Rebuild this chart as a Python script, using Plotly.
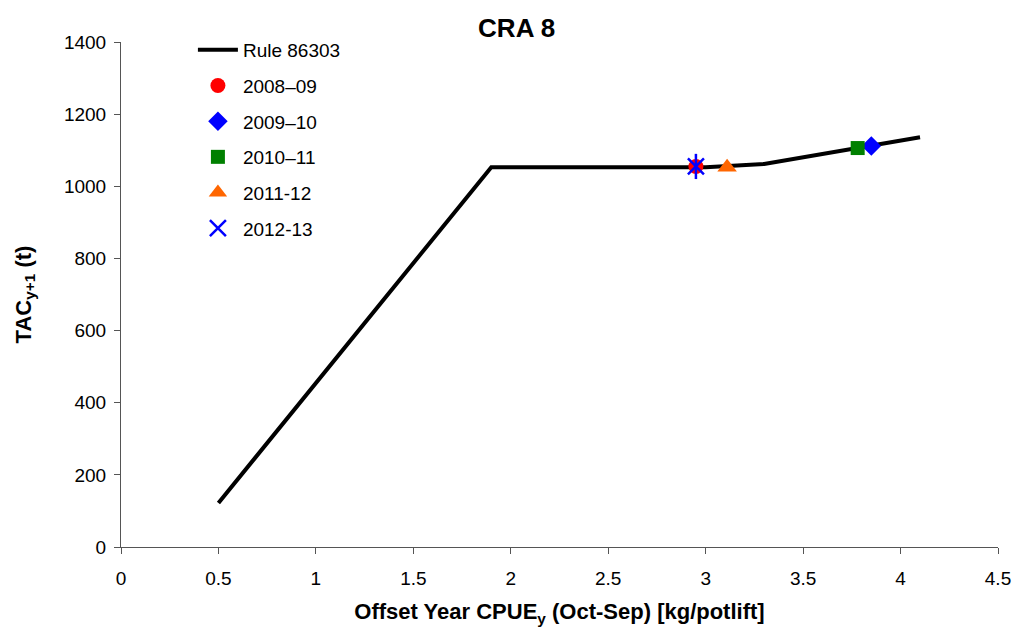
import plotly.graph_objects as go

# Rule line (CPUE vs TAC)
rule_x = [0.5, 1.9, 3.0, 3.3, 4.1]
rule_y = [122, 1053, 1053, 1062, 1136]

# Yearly points
years = ["2008–09", "2009–10", "2010–11", "2011-12", "2012-13"]
pts_x = [2.95, 3.85, 3.78, 3.11, 2.95]
pts_y = [1055, 1112, 1106, 1053, 1055]
colors = ["#FF0000", "#0000FF", "#008000", "#FF6600", "#0000FF"]
symbols = ["circle", "diamond", "square", "triangle-up", "x-thin-open"]
sizes = [15, 15, 14, 17, 16]

x_ticks = [0, 0.5, 1, 1.5, 2, 2.5, 3, 3.5, 4, 4.5]
x_tick_labels = ["0", "0.5", "1", "1.5", "2", "2.5", "3", "3.5", "4", "4.5"]
y_ticks = [0, 200, 400, 600, 800, 1000, 1200, 1400]

FONT = "Liberation Sans, Arial, sans-serif"

fig = go.Figure()
fig.add_trace(go.Scatter(
    x=rule_x, y=rule_y, mode="lines", name="Rule 86303",
    line=dict(color="black", width=4), legendgroup="r",
))
for i, name in enumerate(years):
    if symbols[i] == "x-thin-open":
        fig.add_trace(go.Scatter(
            x=[pts_x[i]], y=[pts_y[i]], mode="markers", name=name,
            marker=dict(symbol="x-thin-open", size=sizes[i], color=colors[i],
                        line=dict(color=colors[i], width=2.5)),
            legendgroup="g%d" % i,
        ))
        fig.add_trace(go.Scatter(
            x=[pts_x[i]], y=[pts_y[i]], mode="markers", name=name,
            marker=dict(symbol="line-ns-open", size=sizes[i] + 2, color=colors[i],
                        line=dict(color=colors[i], width=2.5)),
            legendgroup="g%d" % i, showlegend=False,
        ))
    else:
        fig.add_trace(go.Scatter(
            x=[pts_x[i]], y=[pts_y[i]], mode="markers", name=name,
            marker=dict(symbol=symbols[i], size=sizes[i], color=colors[i],
                        line=dict(width=0)),
            legendgroup="g%d" % i,
        ))

fig.update_layout(
    width=1015, height=627,
    margin=dict(l=121, r=17, t=42, b=80, autoexpand=False),
    paper_bgcolor="white", plot_bgcolor="white",
    font=dict(family=FONT, size=19, color="black"),
    title=dict(text="<b>CRA 8</b>", x=0.509, xanchor="center", y=0.955, yanchor="middle",
               font=dict(size=26, family=FONT, color="black")),
    showlegend=True,
    legend=dict(x=0.082, y=1.022, xanchor="left", yanchor="top",
                bgcolor="rgba(0,0,0,0)", font=dict(size=19, family=FONT),
                tracegroupgap=8, itemwidth=40),
    xaxis=dict(range=[0, 4.5], tickvals=x_ticks, ticktext=x_tick_labels,
               showgrid=False, zeroline=False, showline=True, linecolor="#555",
               linewidth=1, ticks="outside", ticklen=6, tickcolor="#555",
               tickfont=dict(size=19), ticklabelstandoff=8, automargin=False,
               title=dict(text="<b>Offset Year CPUE<sub>y</sub> (Oct-Sep) [kg/potlift]</b>",
                          font=dict(size=22), standoff=18)),
    yaxis=dict(range=[0, 1400], tickvals=y_ticks,
               showgrid=False, zeroline=False, showline=True, linecolor="#555",
               linewidth=1, ticks="outside", ticklen=6, tickcolor="#555",
               tickfont=dict(size=19), ticklabelstandoff=4, automargin=False,
               title=dict(text="<b>TAC<sub>y+1</sub> (t)</b>", font=dict(size=22), standoff=26)),
)

fig.write_html("out.html")
